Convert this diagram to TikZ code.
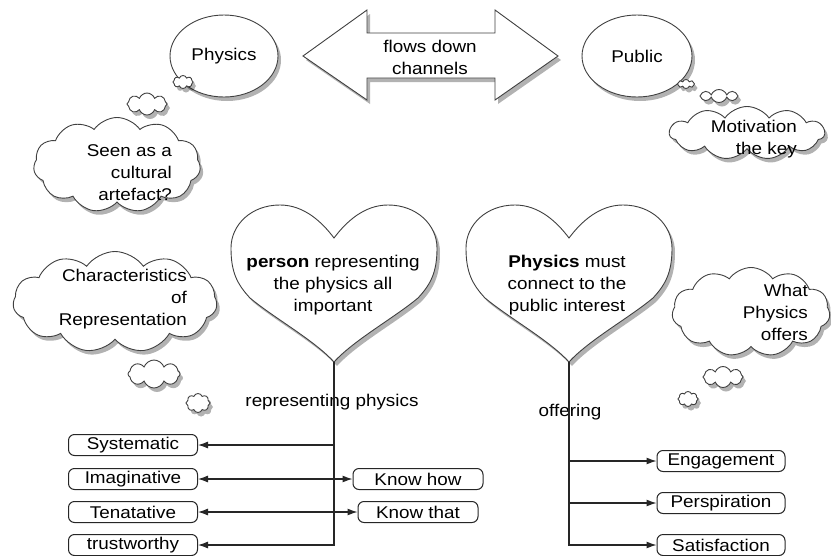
\documentclass[tikz,border=0pt]{standalone}
\usepackage{fontspec}
\setmainfont{Liberation Sans}[FakeStretch=1.11]
\usetikzlibrary{arrows.meta,positioning,shapes.geometric,shapes.symbols,shadows}

\tikzset{
    softshadow/.style={drop shadow={shadow xshift=3pt,shadow yshift=-4pt,opacity=0.3,fill=black}},
    outline/.style={draw=black!75, fill=white, line width=0.9pt, softshadow},
    thought/.style={cloud, cloud puffs=11, cloud puff arc=110, cloud ignores aspect, outline, inner sep=0pt},
    puffcloud/.style={thought, cloud puffs=8, cloud puff arc=140},
    bubble/.style={ellipse, outline},
    cloudtext/.style={anchor=east, align=right, inner sep=0pt},
    itembox/.style={draw=black!85, rounded corners=6pt, line width=1pt, minimum width=129pt, minimum height=21pt, inner sep=1pt},
    arr/.style={-{Latex[length=10pt,width=7pt]}, draw=black!85, line width=1.1pt},
}

\begin{document}
\begin{tikzpicture}[x=1pt, y=-1pt, font=\fontsize{17}{22}\selectfont]
    \useasboundingbox (0,0) rectangle (831,555);

    % top row
    \node[bubble, minimum width=108, minimum height=82] (physics) at (224,56) {Physics};
    \node[bubble, minimum width=110, minimum height=82] (public) at (637,56) {Public};
    \draw[outline] (303,56) -- (367,10) -- (367,33) -- (495,33) -- (495,10) -- (558,56)
        -- (495,100) -- (495,78) -- (367,78) -- (367,100) -- cycle;
    \node[align=center] (flows) at (430,57) {flows down\\channels};

    % thought clouds
    \node[puffcloud, minimum width=20, minimum height=13] (artefactA) at (183,82) {};
    \node[puffcloud, minimum width=40, minimum height=22] (artefactB) at (147,104) {};
    \node[thought, minimum width=167, minimum height=95] (artefact) at (117,165) {};
    \node[cloudtext] (artefactText) at (172,173) {Seen as a\\cultural\\artefact?};

    \node[puffcloud, minimum width=17, minimum height=9] (motiveA) at (686,84) {};
    \node[puffcloud, minimum width=38, minimum height=13] (motiveB) at (719,96) {};
    \node[thought, minimum width=155, minimum height=53] (motive) at (747,133) {};
    \node[cloudtext] (motiveText) at (797,139) {Motivation\\the key};

    \node[thought, minimum width=204, minimum height=101] (charac) at (115,302) {};
    \node[puffcloud, minimum width=52, minimum height=28] (characA) at (154,374) {};
    \node[puffcloud, minimum width=24, minimum height=19] (characB) at (198,403) {};
    \node[cloudtext] (characText) at (187,299) {Characteristics\\of\\Representation};

    \node[thought, minimum width=158, minimum height=89] (offers) at (751,312) {};
    \node[puffcloud, minimum width=40, minimum height=21] (offersA) at (723,377) {};
    \node[puffcloud, minimum width=20, minimum height=15] (offersB) at (688,399) {};
    \node[cloudtext] (offersText) at (808,312) {What\\Physics\\offers};

    % hearts
    \foreach \cx/\tip in {334/lTip, 569/rTip} {
        \begin{scope}[shift={(\cx,0)}]
            \draw[outline] (0,238) .. controls (-12,222) and (-30,205) .. (-54,205)
                .. controls (-83,205) and (-103,225) .. (-103,248)
                .. controls (-103,272) and (-97,284) .. (-84,298)
                .. controls (-60,318) and (-20,340) .. (0,362)
                .. controls (20,340) and (60,318) .. (84,298)
                .. controls (97,284) and (103,272) .. (103,248)
                .. controls (103,225) and (83,205) .. (54,205)
                .. controls (30,205) and (12,222) .. (0,238) -- cycle;
            \coordinate (\tip) at (0,362);
        \end{scope}
    }
    \node[align=center] (personText) at (333,285) {\textbf{person} representing\\the physics all\\important};
    \node[align=center] (connectText) at (567,285) {\textbf{Physics} must\\connect to the\\public interest};

    % representing physics
    \node (reprLabel) at (332,402) {representing physics};
    \node[itembox] (sys) at (133,445) {Systematic};
    \node[itembox] (imag) at (133,479) {Imaginative};
    \node[itembox] (tenat) at (133,512) {Tenatative};
    \node[itembox] (trust) at (133,545) {trustworthy};
    \node[itembox, minimum width=130] (how) at (418,479) {Know how};
    \node[itembox, minimum width=120] (that) at (418,512) {Know that};
    \draw[arr] (lTip) |- (trust.east);
    \foreach \b in {sys,imag,tenat}
        \draw[arr] (lTip |- \b.east) -- (\b.east);
    \foreach \b in {how,that}
        \draw[arr] (lTip |- \b.west) -- (\b.west);

    % offering
    \node (offerLabel) at (570,412) {offering};
    \node[itembox, minimum width=128] (engage) at (721,461) {Engagement};
    \node[itembox, minimum width=128] (persp) at (721,503) {Perspiration};
    \node[itembox, minimum width=128] (satis) at (721,545) {Satisfaction};
    \draw[arr] (rTip) |- (satis.west);
    \foreach \b in {engage,persp}
        \draw[arr] (rTip |- \b.west) -- (\b.west);
\end{tikzpicture}
\end{document}
